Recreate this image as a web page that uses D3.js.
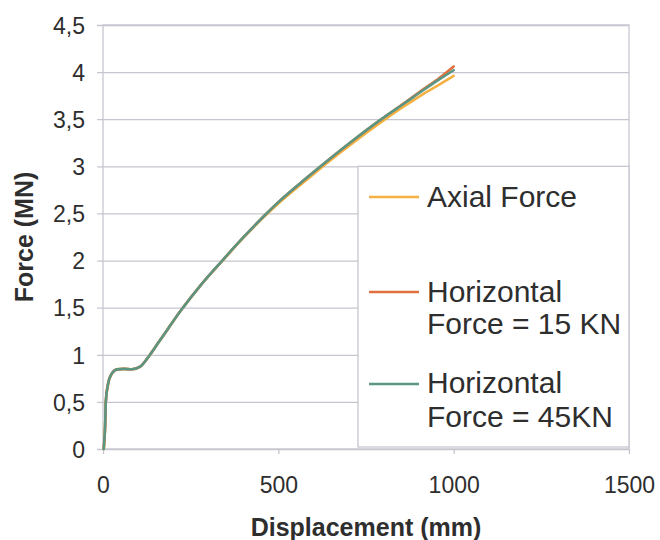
<!DOCTYPE html>
<html>
<head>
<meta charset="utf-8">
<script src="https://cdn.jsdelivr.net/npm/d3@7"></script>
<style>
  html, body { margin: 0; padding: 0; background: #fff; }
  svg { display: block; font-family: Arial, "Liberation Sans", sans-serif; }
</style>
</head>
<body>
<svg id="chart" width="660" height="540"></svg>
<script>
// Displacement (mm) at each sampled point
const displacement = [2, 3, 6, 8, 15, 25, 40, 60, 82, 106, 134, 160, 186, 224, 280, 339, 400, 457, 500, 580, 647, 720, 790, 860, 914, 960, 1000];
// Force (MN) for each loading case
const axialForce   = [0, 0.05, 0.24, 0.50, 0.70, 0.80, 0.845, 0.85, 0.846, 0.874, 1.0, 1.14, 1.28, 1.48, 1.745, 1.99, 2.24, 2.455, 2.605, 2.855, 3.06, 3.27, 3.46, 3.64, 3.77, 3.87, 3.96];
const horizontal15 = [0, 0.05, 0.24, 0.50, 0.70, 0.80, 0.845, 0.85, 0.846, 0.874, 1.0, 1.14, 1.28, 1.48, 1.745, 1.995, 2.245, 2.465, 2.62, 2.875, 3.08, 3.295, 3.49, 3.675, 3.82, 3.94, 4.06];
const horizontal45 = [0, 0.05, 0.24, 0.50, 0.70, 0.80, 0.845, 0.85, 0.846, 0.874, 1.0, 1.14, 1.28, 1.48, 1.745, 1.995, 2.245, 2.465, 2.62, 2.875, 3.08, 3.295, 3.49, 3.67, 3.81, 3.925, 4.02];

const xTicks = [0, 500, 1000, 1500];
const yTicks = [0, 0.5, 1, 1.5, 2, 2.5, 3, 3.5, 4, 4.5];

const seriesNames  = ["Axial Force", "Horizontal\nForce = 15 KN", "Horizontal\nForce = 45KN"];
const seriesColors = ["#f4b040", "#e2703e", "#5c9682"];
const seriesValues = [axialForce, horizontal15, horizontal45];

const svg = d3.select("#chart");
const plotLeft = 103, plotRight = 629, plotTop = 25, plotBottom = 449;

const x = d3.scaleLinear().domain([0, 1500]).range([plotLeft, plotRight]);
const y = d3.scaleLinear().domain([0, 4.5]).range([plotBottom, plotTop]);
const fmt = d => String(d).replace(".", ",");

const gridColor = "#c6c6d0";
const textColor = "#2e2e2e";

// horizontal gridlines with outward ticks on the left
const yAxis = d3.axisLeft(y).tickValues(yTicks).tickFormat(fmt)
  .tickSizeInner(-(plotRight - plotLeft)).tickSizeOuter(0);
const gy = svg.append("g").attr("transform", `translate(${plotLeft},0)`).call(yAxis);
gy.select(".domain").remove();
gy.selectAll(".tick line").attr("stroke", gridColor).attr("stroke-width", 1.3)
  .attr("x1", -6);
gy.selectAll(".tick text").attr("font-size", 23).attr("fill", textColor)
  .attr("x", 85 - plotLeft).attr("dy", "0.36em");

// vertical gridlines with outward ticks at the bottom
const xAxis = d3.axisBottom(x).tickValues(xTicks).tickFormat(d => d)
  .tickSizeInner(-(plotBottom - plotTop)).tickSizeOuter(0);
const gx = svg.append("g").attr("transform", `translate(0,${plotBottom})`).call(xAxis);
gx.select(".domain").remove();
gx.selectAll(".tick line").attr("stroke", gridColor).attr("stroke-width", 1.3)
  .attr("y2", 5);
gx.selectAll(".tick text").attr("font-size", 23).attr("fill", textColor)
  .attr("y", 44).attr("dy", 0);

// plot frame
svg.append("rect").attr("x", plotLeft).attr("y", plotTop)
  .attr("width", plotRight - plotLeft).attr("height", plotBottom - plotTop)
  .attr("fill", "none").attr("stroke", gridColor).attr("stroke-width", 1.3);

// data lines
const line = d3.line()
  .x((d, i) => x(displacement[i]))
  .y(d => y(d))
  .curve(d3.curveMonotoneX);

seriesValues.forEach((vals, k) => {
  svg.append("path").datum(vals)
    .attr("d", line)
    .attr("fill", "none")
    .attr("stroke", seriesColors[k])
    .attr("stroke-width", 2.6)
    .attr("stroke-linejoin", "round")
    .attr("stroke-linecap", "round");
});

// legend
const legend = svg.append("g");
legend.append("rect").attr("x", 358).attr("y", y(3)).attr("width", plotRight - 358)
  .attr("height", 447 - y(3)).attr("fill", "#fff")
  .attr("stroke", gridColor).attr("stroke-width", 1.3);

const legendRows = [
  { lineY: 197, baselines: [207] },
  { lineY: 292, baselines: [302, 334] },
  { lineY: 384, baselines: [393, 427] }
];
legendRows.forEach((row, k) => {
  legend.append("line").attr("x1", 369).attr("x2", 419)
    .attr("y1", row.lineY).attr("y2", row.lineY)
    .attr("stroke", seriesColors[k]).attr("stroke-width", 2.4);
  const t = legend.append("text").attr("x", 427).attr("font-size", 30).attr("fill", textColor);
  seriesNames[k].split("\n").forEach((s, j) => {
    t.append("tspan").attr("x", 427).attr("y", row.baselines[j]).text(s);
  });
});

// axis titles
svg.append("text").attr("x", (plotLeft + plotRight) / 2).attr("y", 536)
  .attr("text-anchor", "middle").attr("font-size", 25).attr("font-weight", "bold")
  .attr("fill", textColor).text("Displacement (mm)");
svg.append("text").attr("transform", `translate(33,${(plotTop + plotBottom) / 2}) rotate(-90)`)
  .attr("text-anchor", "middle").attr("font-size", 25).attr("font-weight", "bold")
  .attr("fill", textColor).text("Force (MN)");
</script>
</body>
</html>
